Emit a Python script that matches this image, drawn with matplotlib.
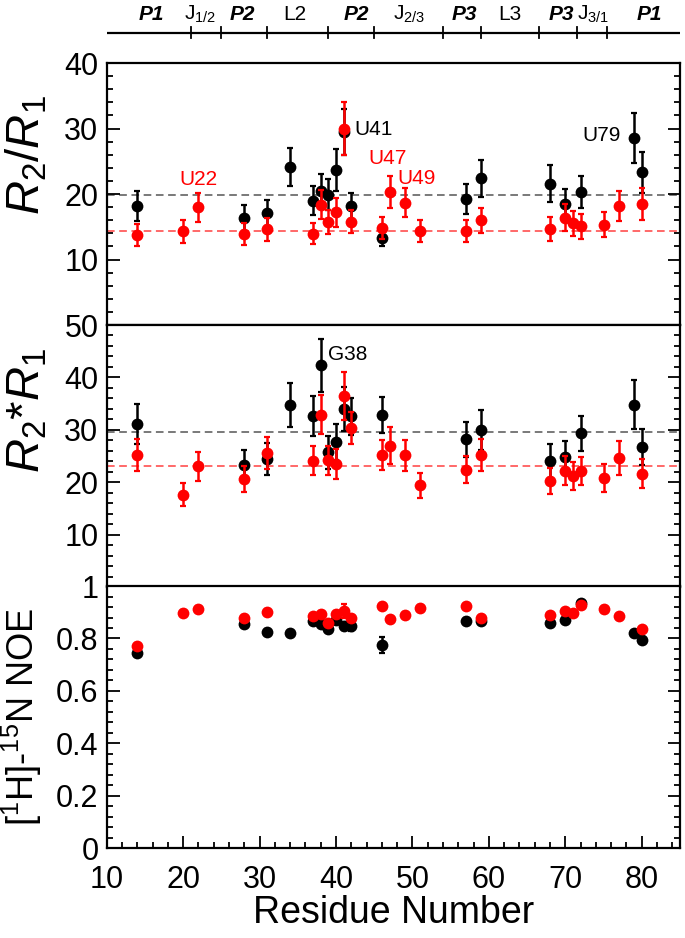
import matplotlib
matplotlib.use("Agg")
import matplotlib.pyplot as plt
from matplotlib.ticker import MultipleLocator, FuncFormatter
import matplotlib.transforms as mtransforms

plt.rcParams['font.family'] = ['Liberation Sans', 'DejaVu Sans']
plt.rcParams['mathtext.fontset'] = 'custom'
plt.rcParams['mathtext.rm'] = 'Liberation Sans'
plt.rcParams['mathtext.it'] = 'Liberation Sans:italic'
plt.rcParams['mathtext.bf'] = 'Liberation Sans:bold'

# black series
b_res = [14, 28, 31, 34, 37, 38, 39, 40, 41, 42, 46, 57, 59, 68, 70, 72, 79, 80]
b_ratio = [18.2, 16.3, 17.1, 24.1, 19.0, 20.5, 19.9, 23.6, 29.5, 18.2, 13.3, 19.3,
           22.4, 21.6, 18.5, 20.3, 28.5, 23.3]
b_ratio_err = [2.3, 2.0, 2.0, 2.9, 2.2, 2.5, 2.4, 3.2, 3.5, 2.0, 1.2, 2.3,
               2.8, 2.8, 2.2, 2.4, 3.8, 3.1]
b_prod = [31.1, 23.2, 24.4, 34.8, 32.6, 42.3, 25.7, 27.7, 34.0, 32.6, 32.8, 28.2,
          29.9, 24.0, 24.9, 29.3, 34.8, 26.7]
b_prod_err = [3.9, 2.9, 3.0, 4.2, 3.8, 5.0, 3.2, 3.5, 4.2, 3.5, 3.4, 3.3,
              3.8, 3.2, 2.9, 3.4, 4.7, 3.5]
b_noe = [0.743, 0.857, 0.825, 0.822, 0.865, 0.857, 0.838, 0.87, 0.848, 0.848, 0.775,
         0.867, 0.867, 0.858, 0.871, 0.937, 0.819, 0.793]
b_noe_err = [0.01, 0.01, 0.01, 0.01, 0.01, 0.01, 0.01, 0.01, 0.015, 0.02, 0.03,
             0.01, 0.01, 0.01, 0.01, 0.01, 0.01, 0.01]

# red series
r_res = [14, 20, 22, 28, 31, 37, 38, 39, 40, 41, 42, 46, 47, 49, 51, 57, 59, 68,
         70, 71, 72, 75, 77, 80]
r_ratio = [13.7, 14.3, 18.0, 13.9, 14.6, 13.9, 18.4, 15.7, 17.2, 30.0, 15.8, 14.8,
           20.3, 18.7, 14.3, 14.3, 16.0, 14.7, 16.4, 15.5, 15.1, 15.3, 18.2, 18.5]
r_ratio_err = [1.65, 1.8, 2.2, 1.7, 1.8, 1.6, 2.2, 1.8, 2.2, 4.0, 1.7, 1.7,
               2.5, 2.2, 1.7, 1.7, 1.9, 1.85, 2.1, 1.9, 1.9, 1.9, 2.3, 2.4]
r_prod = [25.2, 17.6, 23.0, 20.6, 25.6, 24.1, 32.9, 24.2, 23.5, 36.5, 30.3, 25.2,
          27.0, 25.1, 19.4, 22.4, 25.2, 20.3, 22.2, 21.2, 22.1, 20.8, 24.6, 21.6]
r_prod_err = [3.0, 2.2, 2.8, 2.5, 3.0, 2.8, 3.7, 2.8, 2.8, 4.6, 3.1, 2.9,
              3.5, 3.0, 2.4, 2.6, 3.1, 2.5, 2.8, 2.7, 2.7, 2.6, 3.2, 2.8]
r_noe = [0.771, 0.897, 0.914, 0.88, 0.902, 0.884, 0.895, 0.858, 0.895, 0.905, 0.88,
         0.925, 0.873, 0.89, 0.916, 0.922, 0.88, 0.889, 0.903, 0.897, 0.927, 0.912,
         0.884, 0.835]
r_noe_err = [0.01] * 9 + [0.025] + [0.01] * 14

# average lines
b_ratio_mean, r_ratio_mean = 19.8, 14.4
b_prod_mean, r_prod_mean = 29.6, 23.1

# secondary structure header
seg_bounds = [21, 25, 31, 39, 45, 54, 59, 66.5, 71.5, 75.5]
seg_labels = ['P1', r'J$_{\mathrm{1/2}}$', 'P2', 'L2', 'P2', r'J$_{\mathrm{2/3}}$',
              'P3', 'L3', 'P3', r'J$_{\mathrm{3/1}}$', 'P1']
seg_pos = [15.9, 22.2, 27.8, 34.6, 42.7, 49.6, 56.8, 62.7, 69.5, 73.6, 81.0]

fig = plt.figure(figsize=(6.85, 9.38), dpi=100)
left, right = 0.1558, 0.9927
bots = [0.6535, 0.3742, 0.0959]
h = 0.2793
axes = [fig.add_axes([left, b, right - left, h]) for b in bots]

red = '#ff0000'
ekw = dict(fmt='o', ms=8.5, elinewidth=1.8, capsize=2.2, capthick=1.6, mec='none')


def style(ax):
    ax.set_xlim(10, 85)
    ax.xaxis.set_major_locator(MultipleLocator(10))
    ax.xaxis.set_minor_locator(MultipleLocator(2))
    ax.tick_params(which='both', direction='in', left=True, right=True,
                   labelsize=22, width=1.3, pad=6)
    ax.tick_params(axis='x', pad=12)
    ax.tick_params(which='major', length=9)
    ax.tick_params(which='minor', length=4.5)
    for s in ax.spines.values():
        s.set_linewidth(1.6)


for ax in axes:
    style(ax)

ax1, ax2, ax3 = axes
for ax in (ax1, ax2):
    ax.tick_params(axis='x', which='both', bottom=False, labelbottom=False)

# panel 1
ax1.axhline(b_ratio_mean, color='#555555', ls=(0, (5, 3)), lw=1.1, zorder=1)
ax1.axhline(r_ratio_mean, color='#ff4040', ls=(0, (5, 3)), lw=1.1, zorder=1)
ax1.errorbar(b_res, b_ratio, yerr=b_ratio_err, color='black', zorder=3, **ekw)
ax1.errorbar(r_res, r_ratio, yerr=r_ratio_err, color=red, zorder=4, **ekw)
ax1.set_ylim(0, 40)
ax1.yaxis.set_major_locator(MultipleLocator(10))
ax1.yaxis.set_minor_locator(MultipleLocator(2))
ax1.yaxis.set_major_formatter(FuncFormatter(lambda v, p: '' if v == 0 else '%d' % v))
ax1.set_ylabel(r'$\mathit{R}_{\mathrm{2}}/\mathit{R}_{\mathrm{1}}$', fontsize=34)
ax1.yaxis.set_label_coords(-0.1, 0.65)
ax1.text(42.4, 29.8, 'U41', fontsize=15, color='black', va='center', ha='left')
ax1.text(22.0, 22.2, 'U22', fontsize=15, color=red, va='center', ha='center')
ax1.text(46.7, 25.5, 'U47', fontsize=15, color=red, va='center', ha='center')
ax1.text(50.6, 22.4, 'U49', fontsize=15, color=red, va='center', ha='center')
ax1.text(77.3, 28.9, 'U79', fontsize=15, color='black', va='center', ha='right')

# panel 2
ax2.axhline(b_prod_mean, color='#555555', ls=(0, (5, 3)), lw=1.1, zorder=1)
ax2.axhline(r_prod_mean, color='#ff4040', ls=(0, (5, 3)), lw=1.1, zorder=1)
ax2.errorbar(b_res, b_prod, yerr=b_prod_err, color='black', zorder=3, **ekw)
ax2.errorbar(r_res, r_prod, yerr=r_prod_err, color=red, zorder=4, **ekw)
ax2.set_ylim(0, 50)
ax2.yaxis.set_major_locator(MultipleLocator(10))
ax2.yaxis.set_minor_locator(MultipleLocator(2))
ax2.yaxis.set_major_formatter(FuncFormatter(lambda v, p: '' if v == 0 else '%d' % v))
ax2.set_ylabel(r'$\mathit{R}_{\mathrm{2}}$*$\mathit{R}_{\mathrm{1}}$', fontsize=34)
ax2.yaxis.set_label_coords(-0.1, 0.675)
ax2.text(38.9, 44.4, 'G38', fontsize=15, color='black', va='center', ha='left')

# panel 3
ax3.errorbar(b_res, b_noe, yerr=b_noe_err, color='black', zorder=3, **ekw)
ax3.errorbar(r_res, r_noe, yerr=r_noe_err, color=red, zorder=4, **ekw)
ax3.set_ylim(0, 1)
ax3.yaxis.set_major_locator(MultipleLocator(0.2))
ax3.yaxis.set_minor_locator(MultipleLocator(0.04))
ax3.yaxis.set_major_formatter(FuncFormatter(lambda v, p: '%g' % round(v, 2)))
ax3.set_ylabel(r'[$^{\mathrm{1}}$H]-$^{\mathrm{15}}$N NOE', fontsize=26)
ax3.yaxis.set_label_coords(-0.11, 0.5)
ax3.set_xlabel('Residue Number', fontsize=27, labelpad=0)

# header
trans = mtransforms.blended_transform_factory(ax1.transData, ax1.transAxes)
ax1.plot([10, 85], [1.115, 1.115], transform=trans, color='black', lw=1.6,
         clip_on=False, solid_capstyle='butt')
for xb in seg_bounds:
    ax1.plot([xb, xb], [1.095, 1.137], transform=trans, color='black', lw=1.3,
             clip_on=False)
for lab, xp in zip(seg_labels, seg_pos):
    if lab.startswith('P'):
        ax1.text(xp, 1.185, lab, transform=trans, fontsize=15, ha='center',
                 va='center', fontweight='bold', fontstyle='italic', clip_on=False)
    else:
        ax1.text(xp, 1.185, lab, transform=trans, fontsize=15, ha='center',
                 va='center', clip_on=False)

fig.savefig('out.png', dpi=100)
